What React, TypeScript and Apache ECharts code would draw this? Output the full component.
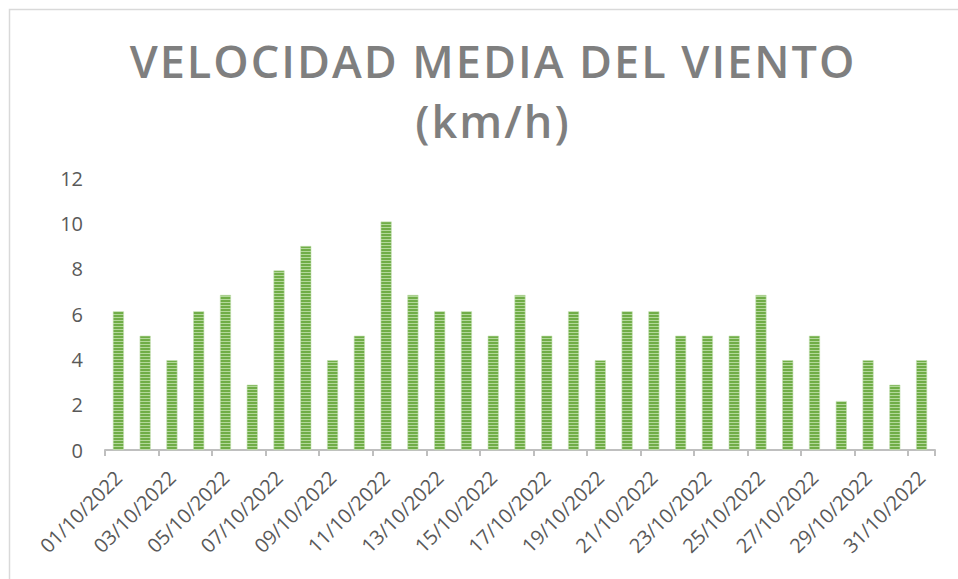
import React, { useEffect, useRef } from "react";
import * as echarts from "echarts";

const titleLines = ["VELOCIDAD MEDIA DEL VIENTO", "(km/h)"];
const days = [
  "01/10/2022", "02/10/2022", "03/10/2022", "04/10/2022", "05/10/2022", "06/10/2022",
  "07/10/2022", "08/10/2022", "09/10/2022", "10/10/2022", "11/10/2022", "12/10/2022",
  "13/10/2022", "14/10/2022", "15/10/2022", "16/10/2022", "17/10/2022", "18/10/2022",
  "19/10/2022", "20/10/2022", "21/10/2022", "22/10/2022", "23/10/2022", "24/10/2022",
  "25/10/2022", "26/10/2022", "27/10/2022", "28/10/2022", "29/10/2022", "30/10/2022",
  "31/10/2022",
];
const windSpeed = [
  6.12, 5.04, 3.96, 6.12, 6.84, 2.88, 7.92, 9.0, 3.96, 5.04, 10.08, 6.84,
  6.12, 6.12, 5.04, 6.84, 5.04, 6.12, 3.96, 6.12, 6.12, 5.04, 5.04, 5.04,
  6.84, 3.96, 5.04, 2.16, 3.96, 2.88, 3.96,
];
const yMin = 0;
const yMax = 12;
const yStep = 2;

function makeStripe(): string {
  const c = document.createElement("canvas");
  c.width = 4;
  c.height = 3;
  const ctx = c.getContext("2d")!;
  ctx.fillStyle = "#70ad47";
  ctx.fillRect(0, 0, 4, 2);
  ctx.fillStyle = "#b3d89a";
  ctx.fillRect(0, 2, 4, 1);
  return c.toDataURL();
}

export default function App() {
  const ref = useRef<HTMLDivElement>(null);
  useEffect(() => {
    if (!ref.current) return;
    const chart = echarts.init(ref.current, undefined, { renderer: "svg" });
    const stripe = makeStripe();
    chart.setOption({
      animation: false,
      backgroundColor: "#ffffff",
      title: {
        text: titleLines.join("\n"),
        left: 488,
        top: 25,
        textAlign: "center",
        textStyle: {
          fontFamily: "Open Sans",
          fontWeight: 600,
          fontSize: 45,
          lineHeight: 60,
          color: "#7f7f7f",
        },
      },
      graphic: [
        {
          type: "rect",
          shape: { x: 9.5, y: 9.5, width: 1200, height: 1200 },
          style: { fill: "none", stroke: "#d9d9d9", lineWidth: 1.5 },
          silent: true,
        },
      ],
      grid: { left: 105, right: 23, top: 178, bottom: 129 },
      xAxis: {
        type: "category",
        data: days,
        boundaryGap: true,
        axisLine: { lineStyle: { color: "#bfbfbf", width: 2 } },
        axisTick: { show: true, interval: 1, length: 6, lineStyle: { color: "#bfbfbf", width: 2 } },
        axisLabel: {
          interval: 1,
          rotate: 45,
          margin: 24,
          color: "#595959",
          fontFamily: "Open Sans",
          fontSize: 20,
        },
      },
      yAxis: {
        type: "value",
        min: yMin,
        max: yMax,
        interval: yStep,
        axisLine: { show: false },
        axisTick: { show: false },
        splitLine: { show: false },
        axisLabel: {
          margin: 22,
          color: "#595959",
          fontFamily: "Open Sans",
          fontSize: 20,
        },
      },
      series: [
        {
          type: "bar",
          data: windSpeed,
          barWidth: 11,
          itemStyle: {
            color: { image: stripe, repeat: "repeat" },
            borderColor: "#c3dfb0",
            borderWidth: 0.6,
          },
        },
      ],
    });
    return () => chart.dispose();
  }, []);
  return (
    <div style={{ position: "fixed", left: 0, top: 0, width: 958, height: 579, overflow: "hidden", background: "#fff" }}>
      <style>{`text[style*="45px"]{letter-spacing:2px;}`}</style>
      <div ref={ref} style={{ width: 958, height: 579 }} />
    </div>
  );
}
